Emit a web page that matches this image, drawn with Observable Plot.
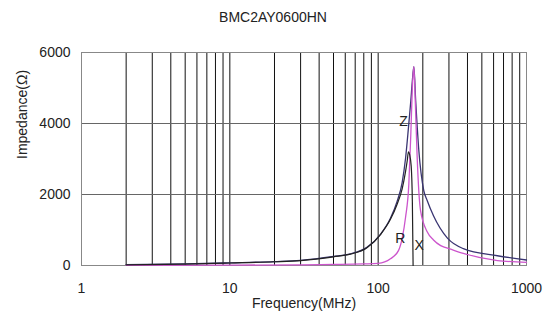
<!DOCTYPE html>
<html>
<head>
<meta charset="utf-8">
<script src="https://cdn.jsdelivr.net/npm/d3@7"></script>
<script src="https://cdn.jsdelivr.net/npm/@observablehq/plot@0.6"></script>
<style>
  html, body { margin: 0; padding: 0; background: #fff; }
  #title { width: 546px; height: 34px; line-height: 34px; text-align: center;
    font-family: "Liberation Sans", Arial, sans-serif; font-size: 14px; color: #222; }
</style>
</head>
<body>
<div id="title">BMC2AY0600HN</div>
<div id="chart"></div>
<script>
// Z (impedance magnitude)
const zFreq = [2,5,10,20,30,50,65,84,104,121,134,145,153,160,166,170,174,179,188,203,214,236,293,375,637,1000];
const zVal  = [25,45,75,110,145,255,330,510,885,1330,1800,2330,3020,3880,4640,5200,5600,4650,3240,2110,1830,1400,770,475,275,155];
// R (resistance)
const rFreq = [2,10,30,50,80,100,121,137,145,153,161,166,170,174,178,183,193,214,236,264,308,375,637,1000];
const rVal  = [5,10,20,30,45,60,190,420,760,1360,2300,3700,5000,5600,4600,3100,1550,950,720,560,460,340,140,90];
// X (reactance, shown while positive)
const xFreq = [2,5,10,20,30,50,65,84,104,121,134,145,153,157,160,163,167,170,172];
const xVal  = [20,40,70,105,140,245,320,500,880,1300,1720,2150,2650,2950,3200,3120,2800,1800,0];

const xTicks = [1,10,100,1000];
const yTicks = [0,2000,4000,6000];
const gridX = [2,3,4,5,6,7,8,9,10,20,30,40,50,60,70,80,90,100,200,300,400,500,600,700,800,900];
const gridY = [2000,4000];

const labels = [
  {f: 148, v: 4050, t: "Z"},
  {f: 141, v: 750, t: "R"},
  {f: 189, v: 550, t: "X"}
];

const toRows = (fs, vs) => fs.map((f, i) => ({f, v: vs[i]}));

const chart = Plot.plot({
  width: 546,
  height: 290,
  marginLeft: 81,
  marginRight: 20,
  marginTop: 18,
  marginBottom: 59,
  style: {fontFamily: "'Liberation Sans', Arial, sans-serif", fontSize: "14px", color: "#222", background: "#fff"},
  x: {type: "log", domain: [1, 1000]},
  y: {domain: [0, 6000]},
  marks: [
    Plot.ruleX(gridX, {stroke: "#111", strokeWidth: 1}),
    Plot.ruleY(gridY, {stroke: "#666", strokeWidth: 1}),
    Plot.frame({stroke: "#888"}),
    Plot.line(toRows(zFreq, zVal), {x: "f", y: "v", stroke: "#3a3572", strokeWidth: 1.3, curve: "monotone-x"}),
    Plot.line(toRows(rFreq, rVal), {x: "f", y: "v", stroke: "#cc55cc", strokeWidth: 1.3, curve: "monotone-x"}),
    Plot.line(toRows(xFreq, xVal), {x: "f", y: "v", stroke: "#222", strokeWidth: 1.2, curve: "monotone-x"}),
    Plot.text(labels, {x: "f", y: "v", text: "t", fontSize: 14, fill: "#222"}),
    Plot.axisX({ticks: xTicks, tickFormat: d => String(d), tickSize: 0, tickPadding: 18, label: null, fontSize: 14}),
    Plot.axisY({ticks: yTicks, tickFormat: d => String(d), tickSize: 0, tickPadding: 11, label: null, fontSize: 14}),
    Plot.text(["Frequency(MHz)"], {frameAnchor: "bottom", dy: 42, fontSize: 14, fill: "#222"}),
    Plot.text(["Impedance(Ω)"], {frameAnchor: "left", dx: -59, rotate: -90, fontSize: 14, fill: "#222"})
  ]
});
document.getElementById("chart").appendChild(chart);
</script>
</body>
</html>
